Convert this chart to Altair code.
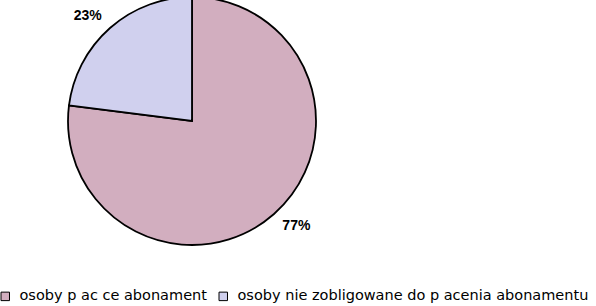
import altair as alt
import pandas as pd

categories = ["osoby p ac ce abonament", "osoby nie zobligowane do p acenia abonamentu"]
values = [77, 23]
labels = ["77%", "23%"]
order = [0, 1]
colors = ["#d2aebf", "#d0d0ee"]

df = pd.DataFrame({"cat": categories, "value": values, "label": labels, "ord": order})

base = alt.Chart(df).encode(
    theta=alt.Theta("value:Q", stack=True),
    order=alt.Order("ord:O"),
    x=alt.value(192),
    y=alt.value(121),
)

pie = base.mark_arc(outerRadius=124, stroke="black", strokeWidth=1.8).encode(
    color=alt.Color(
        "cat:N",
        scale=alt.Scale(domain=categories, range=colors),
        sort=categories,
        legend=alt.Legend(
            title=None,
            orient="none",
            legendX=-2,
            legendY=289,
            direction="horizontal",
            symbolType="square",
            symbolSize=72,
            symbolStrokeColor="black",
            symbolStrokeWidth=1,
            labelFont="DejaVu Sans",
            labelFontSize=14.5,
            labelColor="black",
            labelLimit=800,
            columnPadding=9,
            symbolOffset=0,
            labelOffset=7,
        ),
    )
)

text = base.mark_text(
    radius=148, thetaOffset=-0.06, font="Liberation Sans", fontSize=14,
    fontWeight="bold", color="black"
).encode(text="label:N")

chart = (
    alt.layer(pie, text)
    .properties(width=596, height=306, autosize=alt.AutoSizeParams(type="none"), padding=0)
    .configure_view(stroke=None)
)

chart.save("out.html", embed_options={"renderer": "svg", "actions": False})
